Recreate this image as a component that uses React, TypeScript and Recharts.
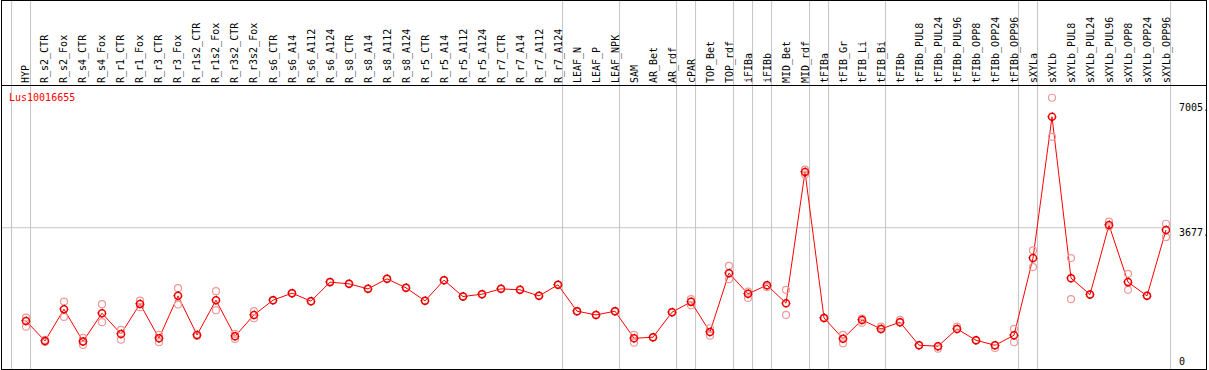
import React from "react";
import { LineChart, Line, XAxis, YAxis, ReferenceLine } from "recharts";

const GENE = "Lus10016655";

const CATEGORIES = [
  "HYP", "R_s2_CTR", "R_s2_Fox", "R_s4_CTR", "R_s4_Fox", "R_r1_CTR", "R_r1_Fox",
  "R_r3_CTR", "R_r3_Fox", "R_r1s2_CTR", "R_r1s2_Fox", "R_r3s2_CTR", "R_r3s2_Fox",
  "R_s6_CTR", "R_s6_A14", "R_s6_A112", "R_s6_A124", "R_s8_CTR", "R_s8_A14",
  "R_s8_A112", "R_s8_A124", "R_r5_CTR", "R_r5_A14", "R_r5_A112", "R_r5_A124",
  "R_r7_CTR", "R_r7_A14", "R_r7_A112", "R_r7_A124", "LEAF_N", "LEAF_P", "LEAF_NPK",
  "SAM", "AR_Bet", "AR_rdf", "cPAR", "TOP_Bet", "TOP_rdf", "iFIBa", "iFIBb",
  "MID_Bet", "MID_rdf", "tFIBa", "tFIB_Gr", "tFIB_Li", "tFIB_Bi", "tFIBb",
  "tFIBb_PUL8", "tFIBb_PUL24", "tFIBb_PUL96", "tFIBb_OPP8", "tFIBb_OPP24",
  "tFIBb_OPP96", "sXYLa", "sXYLb", "sXYLb_PUL8", "sXYLb_PUL24", "sXYLb_PUL96",
  "sXYLb_OPP8", "sXYLb_OPP24", "sXYLb_OPP96",
];

// mean expression per sample
const MEAN = [
  1181, 644, 1495, 631, 1388, 832, 1637, 717, 1852, 805, 1737, 770, 1342,
  1737, 1924, 1710, 2220, 2174, 2040, 2308, 2067, 1718, 2273, 1833, 1898,
  2040, 2013, 1852, 2147, 1441, 1342, 1441, 717, 743, 1414, 1691, 886, 2461,
  1906, 2139, 1656, 5172, 1261, 706, 1208, 966, 1146, 529, 502, 966, 663, 529,
  797, 2864, 6648, 2327, 1887, 3750, 2220, 1852, 3615,
];

// replicates (upper / lower)
const REP_A = [
  1270, 671, 1699, 725, 1629, 939, 1726, 805, 2059, 805, 1978, 832, 1441,
  1737, 1924, 1710, 2220, 2174, 2040, 2308, 2067, 1718, 2273, 1833, 1898,
  2040, 2013, 1852, 2147, 1441, 1342, 1441, 805, 743, 1414, 1763, 985, 2657,
  1967, 2139, 2013, 5234, 1261, 805, 1243, 1028, 1208, 529, 502, 1028, 663, 529,
  966, 3068, 7158, 2864, 1887, 3838, 2442, 1852, 3784,
];
const REP_B = [
  1028, 617, 1288, 537, 1146, 679, 1549, 609, 1618, 778, 1468, 698, 1253,
  1737, 1924, 1710, 2220, 2174, 2040, 2308, 2067, 1718, 2273, 1833, 1898,
  2040, 2013, 1852, 2147, 1441, 1342, 1441, 599, 743, 1414, 1602, 786, 2300,
  1798, 2085, 1342, 5100, 1261, 582, 1135, 966, 1146, 529, 437, 966, 663, 456,
  609, 2622, 6111, 1763, 1887, 3712, 2013, 1852, 3427,
];

// index of last sample in each group (gray separators)
const GROUP_ENDS = [-1, 0, 28, 31, 34, 35, 37, 38, 39, 41, 42, 45, 52, 53, 60];
const Y_TICKS = [0, 3677, 7005];

const rows = CATEGORIES.map((name, i) => ({
  i,
  name,
  mean: MEAN[i],
  a: REP_A[i],
  b: REP_B[i],
}));

const FONT = "'DejaVu Sans Mono', monospace";
const GRID = "#c4c4c4";

const XTick = ({ x, payload }: any) => (
  <text
    transform={`translate(${x},83) rotate(-90)`}
    dy="0.35em"
    fontSize={10}
    fontFamily={FONT}
    fill="#000"
    textAnchor="start"
  >
    {CATEGORIES[payload.value]}
  </text>
);

const YTick = ({ y, payload }: any) => (
  <text
    x={1179}
    y={payload.value === 0 ? y : y + 8}
    fontSize={10}
    fontFamily={FONT}
    fill="#000"
  >
    {payload.value === 0 ? "0" : `${payload.value}.`}
  </text>
);

const Sep = (props: any) => (
  <line x1={props.x1} x2={props.x2} y1={1} y2={369} stroke={GRID} strokeWidth={1} />
);

const repDot = (props: any) => (
  <circle
    key={`r${props.index}-${props.dataKey}`}
    cx={props.cx}
    cy={props.cy}
    r={3.5}
    fill="none"
    stroke="#f09a9a"
    strokeWidth={1.2}
  />
);

// mean marker: red ring with small dark ticks at the four compass points
const meanDot = (props: any) => (
  <g key={`m${props.index}`}>
    <circle cx={props.cx} cy={props.cy} r={3.5} fill="none" stroke="#ff0000" strokeWidth={1.5} />
    <circle
      cx={props.cx}
      cy={props.cy}
      r={4}
      fill="none"
      stroke="#600000"
      strokeWidth={1}
      strokeDasharray="1.2 5.08"
      strokeDashoffset={0.6}
    />
  </g>
);

export default function App() {
  return (
    <div
      style={{
        position: "absolute",
        left: 0,
        top: 0,
        width: 1209,
        height: 370,
        background: "#fff",
      }}
    >
      <LineChart
        width={1209}
        height={370}
        data={rows}
        margin={{ top: 1, right: 3, bottom: 1, left: 2 }}
      >
        <XAxis
          dataKey="i"
          type="number"
          orientation="top"
          height={84}
          domain={[-1.263, 60.21]}
          allowDataOverflow
          ticks={rows.map((r) => r.i)}
          interval={0}
          tick={<XTick />}
          axisLine={false}
          tickLine={false}
        />
        <YAxis
          orientation="right"
          width={36}
          type="number"
          domain={[-107, 7500]}
          allowDataOverflow
          ticks={Y_TICKS}
          interval={0}
          tick={<YTick />}
          axisLine={false}
          tickLine={false}
        />
        {GROUP_ENDS.map((g) => (
          <ReferenceLine
            key={g}
            x={g + 0.24}
            stroke={GRID}
            ifOverflow="visible"
            shape={<Sep />}
          />
        ))}
        <ReferenceLine y={3677} stroke={GRID} strokeWidth={1} />
        <Line
          dataKey="a"
          stroke="none"
          dot={repDot}
          activeDot={false}
          isAnimationActive={false}
        />
        <Line
          dataKey="b"
          stroke="none"
          dot={repDot}
          activeDot={false}
          isAnimationActive={false}
        />
        <Line
          dataKey="mean"
          type="linear"
          stroke="#ff0000"
          strokeWidth={1}
          dot={meanDot}
          activeDot={false}
          isAnimationActive={false}
        />
      </LineChart>
      <svg
        width={1209}
        height={370}
        style={{ position: "absolute", left: 0, top: 0, pointerEvents: "none" }}
      >
        <rect x={1.5} y={0.5} width={1205} height={369} fill="none" stroke="#000" />
        <line x1={1} x2={1207} y1={85.5} y2={85.5} stroke="#000" />
        <text x={9} y={100.5} fontSize={10} fontFamily={FONT} fill="#ff0000">
          {GENE}
        </text>
      </svg>
    </div>
  );
}
